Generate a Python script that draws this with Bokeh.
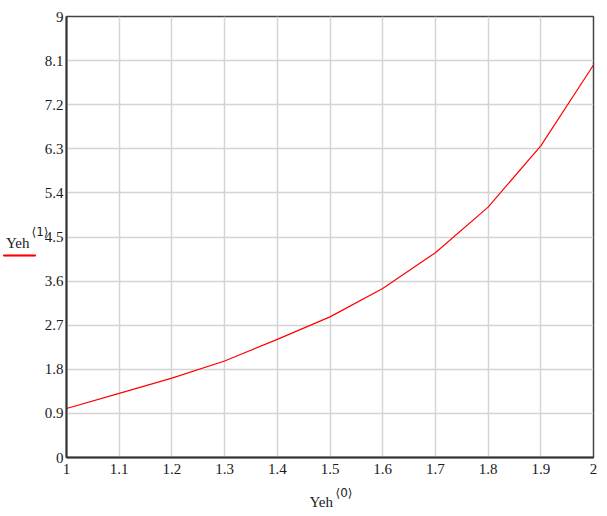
from bokeh.plotting import figure
from bokeh.models import Range1d, FixedTicker, Label
from bokeh.embed import file_html
from bokeh.resources import INLINE

# Data
x_vals = [1.0, 1.1, 1.2, 1.3, 1.4, 1.5, 1.6, 1.7, 1.8, 1.9, 2.0]
y_vals = [1.0, 1.31, 1.62, 1.97, 2.41, 2.87, 3.45, 4.18, 5.11, 6.36, 8.01]
x_ticks = [1.0, 1.1, 1.2, 1.3, 1.4, 1.5, 1.6, 1.7, 1.8, 1.9, 2.0]
x_tick_labels = ["1", "1.1", "1.2", "1.3", "1.4", "1.5", "1.6", "1.7", "1.8", "1.9", "2"]
y_ticks = [0, 0.9, 1.8, 2.7, 3.6, 4.5, 5.4, 6.3, 7.2, 8.1, 9]
y_tick_labels = ["0", "0.9", "1.8", "2.7", "3.6", "4.5", "5.4", "6.3", "7.2", "8.1", "9"]
x_label = "Yeh"
x_label_sup = "\u27e80\u27e9"
y_label = "Yeh"
y_label_sup = "\u27e81\u27e9"

FONT = "Liberation Serif"
SUPFONT = "DejaVu Sans"
TXT = "#1a1a24"

p = figure(width=599, height=514, output_backend="svg", toolbar_location=None,
           x_range=Range1d(1, 2), y_range=Range1d(0, 9),
           min_border_left=66, min_border_right=6, min_border_top=16, min_border_bottom=57)

p.background_fill_color = "white"
p.border_fill_color = "white"
p.outline_line_color = "#444444"
p.outline_line_width = 1.5

p.line(x_vals, y_vals, line_color="#ff0000", line_width=1.2)

for ax, ticks, labels in ((p.xaxis[0], x_ticks, x_tick_labels), (p.yaxis[0], y_ticks, y_tick_labels)):
    ax.ticker = FixedTicker(ticks=ticks)
    ax.major_label_overrides = {t: l for t, l in zip(ticks, labels)}
    ax.minor_tick_line_color = None
    ax.major_tick_line_color = None
    ax.major_tick_out = 0
    ax.major_tick_in = 0
    ax.axis_line_color = "#333333"
    ax.axis_line_width = 2
    ax.major_label_text_font = FONT
    ax.major_label_text_font_size = "15px"
    ax.major_label_text_color = TXT

p.xaxis.major_label_standoff = 6
p.yaxis.major_label_standoff = 3

p.xgrid.ticker = FixedTicker(ticks=x_ticks)
p.ygrid.ticker = FixedTicker(ticks=y_ticks)
p.grid.grid_line_color = "#d4d4d4"
p.grid.grid_line_width = 1.5

# axis labels (Mathcad style), placed in side panels
p.add_layout(Label(x=243, y=-9, x_units="screen", y_units="screen", text=x_label,
                   text_font=FONT, text_font_size="15px", text_color=TXT, text_baseline="alphabetic"), "below")
p.add_layout(Label(x=269, y=14, x_units="screen", y_units="screen", text=x_label_sup,
                   text_font=SUPFONT, text_font_size="12px", text_color=TXT, text_baseline="alphabetic"), "below")
# trace marker (red line under the y label)
p.add_layout(Label(x=-63, y=252, x_units="screen", y_units="screen", text="\u2003" * 32,
                   text_font_size="1px", background_fill_color="#ff0000",
                   border_line_color="#ff0000", border_line_width=1, text_baseline="middle"), "below")
p.add_layout(Label(x=-12.5, y=215, x_units="screen", y_units="screen", text=y_label,
                   text_font=FONT, text_font_size="15px", text_color=TXT, text_baseline="alphabetic"), "left")
p.add_layout(Label(x=30, y=226, x_units="screen", y_units="screen", text=y_label_sup,
                   text_font=SUPFONT, text_font_size="12px", text_color=TXT, text_baseline="alphabetic"), "left")

open("out.html", "w").write(file_html(p, INLINE))
